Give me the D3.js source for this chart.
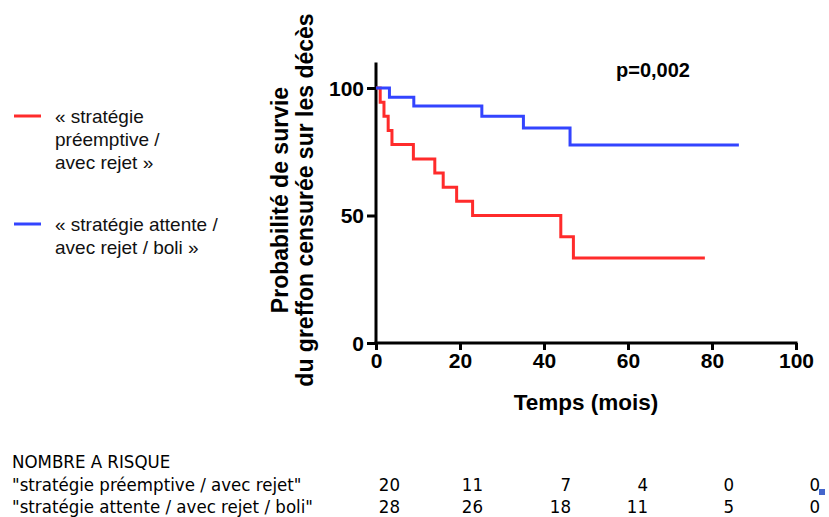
<!DOCTYPE html>
<html>
<head>
<meta charset="utf-8">
<script src="https://cdn.jsdelivr.net/npm/d3@7"></script>
<style>
  body { margin: 0; background: #fff; }
  svg { display: block; }
  .tick text { font-family: "Liberation Sans", Arial, sans-serif; font-weight: bold; font-size: 21px; fill: #000; }
</style>
</head>
<body>
<div id="container"></div>
<script>
// Kaplan-Meier steps (months, % survival)
const redTimes = [0, 1.0, 1.9, 2.9, 3.8, 8.9, 14.0, 16.0, 19.2, 23.0, 44.0, 47.0, 78.3]
const redSurv = [100, 94.4, 88.9, 83.3, 77.8, 72.2, 66.7, 61.1, 55.6, 50, 41.7, 33.3, 33.3]
const blueTimes = [0, 3.2, 9.0, 25.2, 35.1, 46.2, 86.4]
const blueSurv = [100, 96.4, 92.9, 88.9, 84.3, 77.6, 77.6]

const xTicks = [0, 20, 40, 60, 80, 100]
const yTicks = [0, 50, 100]

const legendLabels = [
  ["« stratégie", "préemptive /", "avec rejet »"],
  ["« stratégie attente /", "avec rejet / boli »"]
]
const riskTitle = "NOMBRE A RISQUE"
const riskNames = ['"stratégie préemptive / avec rejet"', '"stratégie attente / avec rejet / boli"']
const riskRed = [20, 11, 7, 4, 0, 0]
const riskBlue = [28, 26, 18, 11, 5, 0]

const red = '#ff2b2b'
const blue = '#3344ff'

const width = 829
const height = 517

const svg = d3.select('#container').append('svg')
  .attr('width', width)
  .attr('height', height)

const xScale = d3.scaleLinear().domain([0, 100]).range([376, 796])
const yScale = d3.scaleLinear().domain([0, 100]).range([343, 88])

// axes
const xAxis = d3.axisBottom(xScale).tickValues(xTicks).tickSize(7).tickSizeOuter(0).tickPadding(3)
const yAxis = d3.axisLeft(yScale).tickValues(yTicks).tickSize(9).tickSizeOuter(0).tickPadding(3)

const gx = svg.append('g')
  .attr('transform', `translate(0, ${yScale(0)})`)
  .call(xAxis)
gx.select('.domain').attr('d', `M${xScale(0) - 1.5},0H${xScale(100) + 1.5}`)

const gy = svg.append('g')
  .attr('transform', `translate(${xScale(0)}, 0)`)
  .call(yAxis)
gy.select('.domain').attr('d', `M0,${yScale(110)}V${yScale(0) + 1.5}`)

svg.selectAll('.domain, .tick line').attr('stroke', '#000').attr('stroke-width', 3)
gy.selectAll('.tick text').attr('dy', '0.35em')

// curves
const line = d3.line()
  .x(d => xScale(d[0]))
  .y(d => yScale(d[1]))
  .curve(d3.curveStepAfter)

svg.append('path')
  .datum(redTimes.map((t, i) => [t, redSurv[i]]))
  .attr('d', line)
  .attr('fill', 'none')
  .attr('stroke', red)
  .attr('stroke-width', 3)

svg.append('path')
  .datum(blueTimes.map((t, i) => [t, blueSurv[i]]))
  .attr('d', line)
  .attr('fill', 'none')
  .attr('stroke', blue)
  .attr('stroke-width', 3)

// titles
svg.append('text')
  .attr('x', 586).attr('y', 410)
  .attr('text-anchor', 'middle')
  .style('font-family', '"Liberation Sans", Arial, sans-serif')
  .style('font-weight', 'bold').style('font-size', '22.5px')
  .text('Temps (mois)')

const yTitle = svg.append('text')
  .attr('transform', 'translate(288, 200) rotate(-90)')
  .attr('text-anchor', 'middle')
  .style('font-family', '"Liberation Sans", Arial, sans-serif')
  .style('font-weight', 'bold').style('font-size', '23px')
yTitle.append('tspan').attr('x', 0).attr('dy', 0).text('Probabilité de survie')
yTitle.append('tspan').attr('x', 0).attr('dy', 25).text('du greffon censurée sur les décès')

svg.append('text')
  .attr('x', 616).attr('y', 77)
  .style('font-family', '"Liberation Sans", Arial, sans-serif')
  .style('font-weight', 'bold').style('font-size', '20px')
  .text('p=0,002')

// legend
const legendY = [116, 224]
const legendColors = [red, blue]
legendLabels.forEach((lines, k) => {
  svg.append('line')
    .attr('x1', 14).attr('x2', 41)
    .attr('y1', legendY[k]).attr('y2', legendY[k])
    .attr('stroke', legendColors[k]).attr('stroke-width', 3)
  svg.selectAll(null)
    .data(lines)
    .enter()
    .append('text')
    .attr('x', 55)
    .attr('y', (d, i) => legendY[k] + 7 + i * 23)
    .style('font-family', '"Liberation Sans", Arial, sans-serif')
    .style('font-size', '19px')
    .attr('fill', '#111')
    .text(d => d)
})

// number at risk table
const tableFont = '"DejaVu Sans Condensed", "Liberation Sans", sans-serif'
svg.append('text')
  .attr('x', 12).attr('y', 468)
  .style('font-family', tableFont).style('font-size', '18.5px')
  .text(riskTitle)

const colRight = [400, 483, 571, 648, 734, 820]
const rowY = [491, 513]
;[riskRed, riskBlue].forEach((row, r) => {
  svg.append('text')
    .attr('x', 12).attr('y', rowY[r])
    .style('font-family', tableFont).style('font-size', '18.5px')
    .text(riskNames[r])
  svg.selectAll(null)
    .data(row)
    .enter()
    .append('text')
    .attr('x', (d, i) => colRight[i])
    .attr('y', rowY[r])
    .attr('text-anchor', 'end')
    .style('font-family', tableFont).style('font-size', '18.5px')
    .text(d => d)
})

// small selection handle at the table corner
svg.append('rect')
  .attr('x', 819).attr('y', 489).attr('width', 6).attr('height', 6)
  .attr('fill', '#4466cc')
</script>
</body>
</html>
